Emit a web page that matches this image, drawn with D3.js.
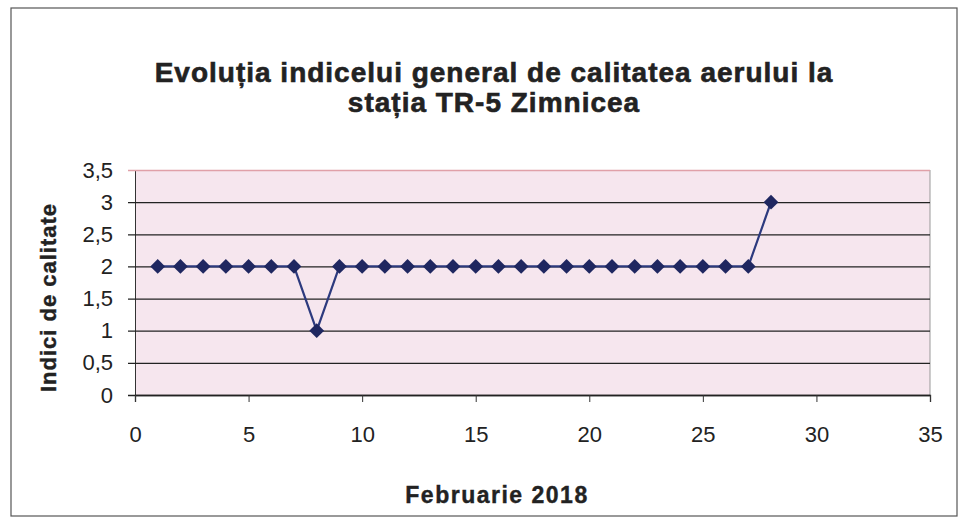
<!DOCTYPE html>
<html>
<head>
<meta charset="utf-8">
<script src="https://cdn.jsdelivr.net/npm/d3@7"></script>
<style>
  body { margin: 0; background: #fff; }
  text { font-family: "Liberation Sans", Arial, sans-serif; fill: #222; }
</style>
</head>
<body>
<svg id="chart" width="960" height="519"></svg>
<script>
"use strict";

var titleLines = ["Evoluția indicelui general de calitatea aerului la", "stația TR-5 Zimnicea"];
var xTitle = "Februarie 2018";
var yTitle = "Indici de calitate";
var days = [1, 2, 3, 4, 5, 6, 7, 8, 9, 10, 11, 12, 13, 14, 15, 16, 17, 18, 19, 20, 21, 22, 23, 24, 25, 26, 27, 28];
var values = [2, 2, 2, 2, 2, 2, 2, 1, 2, 2, 2, 2, 2, 2, 2, 2, 2, 2, 2, 2, 2, 2, 2, 2, 2, 2, 2, 3];
var xTicks = [0, 5, 10, 15, 20, 25, 30, 35];
var yTicks = [0, 0.5, 1, 1.5, 2, 2.5, 3, 3.5];

var svg = d3.select("#chart");

// outer frame
svg.append("rect")
    .attr("x", 11).attr("y", 8).attr("width", 946).attr("height", 508)
    .attr("fill", "#fff").attr("stroke", "#555").attr("stroke-width", 1.2);

var plotLeft = 135, plotRight = 930, plotTop = 170, plotBottom = 395;
var x = d3.scaleLinear().domain([0, 35]).range([plotLeft, plotRight]);
var y = d3.scaleLinear().domain([0, 3.5]).range([plotBottom, plotTop]);

// plot area background
svg.append("rect")
    .attr("x", plotLeft).attr("y", plotTop)
    .attr("width", plotRight - plotLeft).attr("height", plotBottom - plotTop)
    .attr("fill", "#f6e6ee");
svg.append("line")
    .attr("x1", plotRight).attr("x2", plotRight).attr("y1", plotTop).attr("y2", plotBottom)
    .attr("stroke", "#999");

// gridlines
var yAxis = d3.axisLeft(y).tickValues(yTicks)
    .tickSize(-(plotRight - plotLeft))
    .tickFormat(function (d) { return String(d).replace(".", ","); });
var gY = svg.append("g").attr("transform", "translate(" + plotLeft + ",0)").call(yAxis);
gY.select(".domain").attr("stroke", "#333");
gY.selectAll(".tick line")
    .attr("x1", -7)
    .attr("stroke", function (d) { return d === 3.5 ? "#e0a0a8" : "#222"; })
    .attr("stroke-width", 1.3);
gY.selectAll(".tick text")
    .attr("x", -22)
    .style("font-size", "22px").style("fill", "#222");

var xAxis = d3.axisBottom(x).tickValues(xTicks).tickSize(7).tickPadding(24);
var gX = svg.append("g").attr("transform", "translate(0," + plotBottom + ")").call(xAxis);
gX.select(".domain").attr("stroke", "#222").attr("stroke-width", 1.3);
gX.selectAll(".tick line").attr("stroke", "#333");
gX.selectAll(".tick text").style("font-size", "22px").style("fill", "#222");

// series
var pts = days.map(function (d, i) { return { day: d, value: values[i] }; });
var line = d3.line()
    .x(function (d) { return x(d.day); })
    .y(function (d) { return y(d.value); });
svg.append("path").datum(pts)
    .attr("d", line)
    .attr("fill", "none")
    .attr("stroke", "#2d3a7e")
    .attr("stroke-width", 2.2);
svg.selectAll(".marker").data(pts).enter().append("path")
    .attr("class", "marker")
    .attr("transform", function (d) { return "translate(" + x(d.day) + "," + y(d.value) + ")"; })
    .attr("d", d3.symbol().type(d3.symbolDiamond2).size(140))
    .attr("fill", "#1f2760");

// titles
svg.append("text")
    .attr("text-anchor", "middle")
    .style("font-size", "28px").style("font-weight", "bold").style("letter-spacing", "1px")
    .style("stroke", "#222").style("stroke-width", "0.6px")
    .selectAll("tspan").data(titleLines).enter().append("tspan")
    .attr("x", 494)
    .attr("y", function (d, i) { return 82 + i * 30; })
    .text(function (d) { return d; });

svg.append("text")
    .attr("x", 497).attr("y", 503)
    .attr("text-anchor", "middle")
    .style("font-size", "23px").style("font-weight", "bold").style("letter-spacing", "1.5px")
    .style("stroke", "#222").style("stroke-width", "0.4px")
    .text(xTitle);

svg.append("text")
    .attr("transform", "translate(56," + ((plotTop + plotBottom) / 2 + 15) + ") rotate(-90)")
    .attr("text-anchor", "middle")
    .style("font-size", "22px").style("font-weight", "bold").style("letter-spacing", "1px")
    .style("stroke", "#222").style("stroke-width", "0.4px")
    .text(yTitle);
</script>
</body>
</html>
